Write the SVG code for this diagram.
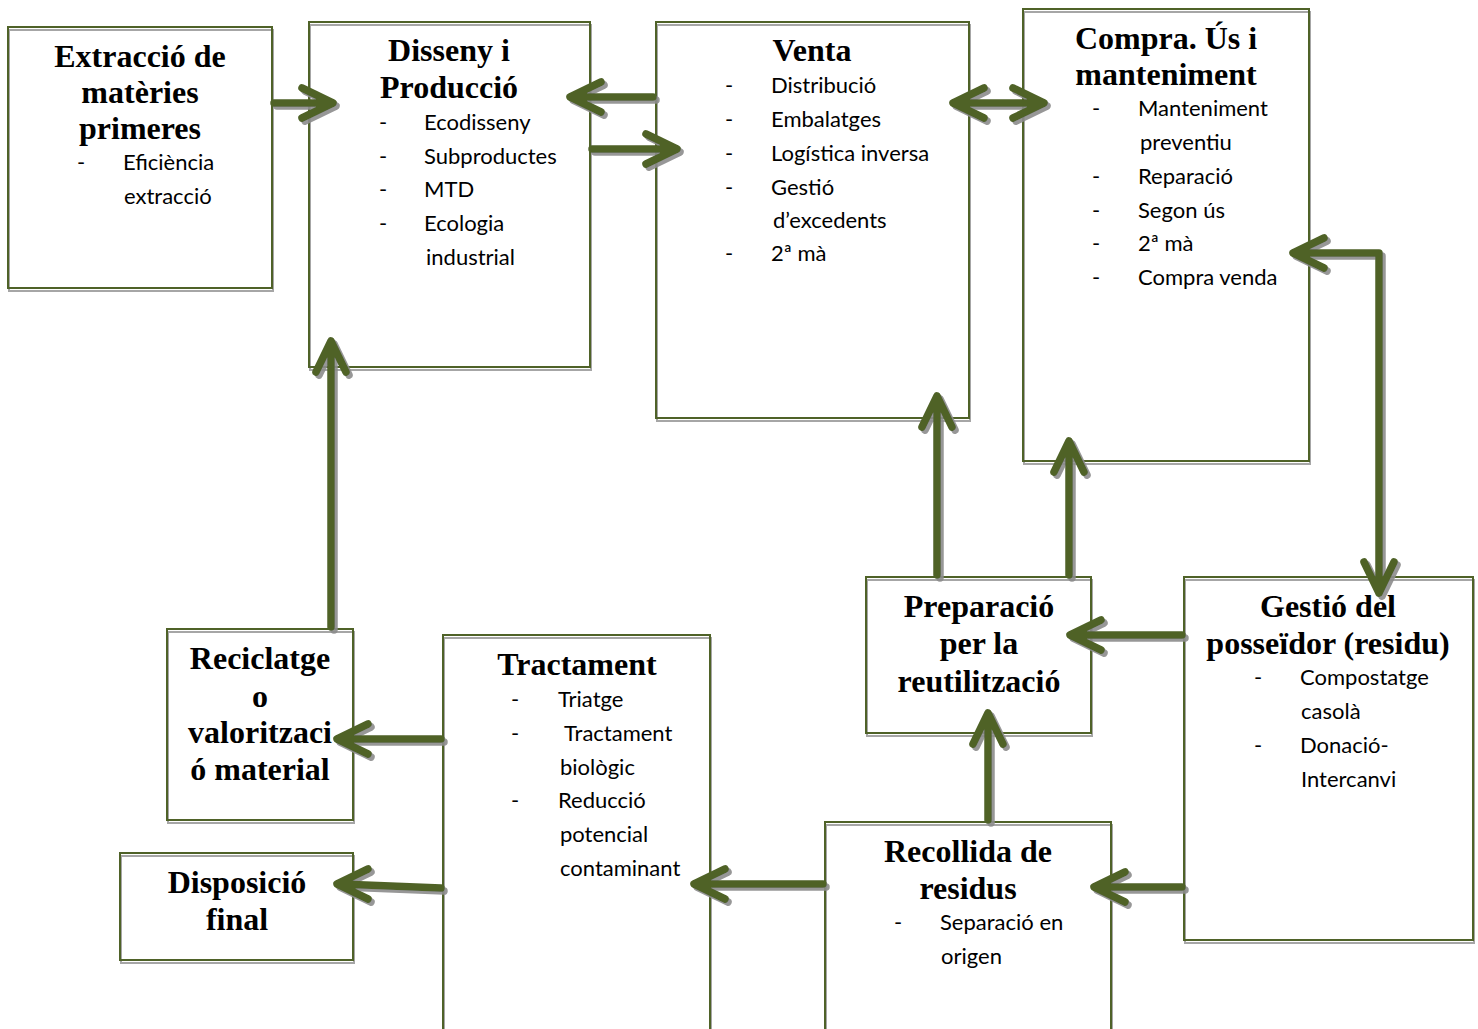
<svg xmlns="http://www.w3.org/2000/svg" width="1478" height="1029" viewBox="0 0 1478 1029">
<style>
.bg{fill:#fff;stroke:none}
.sh{fill:none;stroke:#a6a6a6;stroke-width:2}
.bx{fill:none;stroke:#4f6228;stroke-width:2}
.t{font-family:"Liberation Serif","Times New Roman",serif;font-weight:bold;font-size:32px;fill:#000;text-anchor:middle}
.b{font-family:Lato,"Carlito",sans-serif;font-size:22px;fill:#000}
.ar{fill:none;stroke:#4f6228;stroke-width:7.5;stroke-linecap:round;stroke-linejoin:round}
</style>
<defs>
<filter id="ds" x="-20%" y="-20%" width="140%" height="140%">
<feDropShadow dx="3" dy="3" stdDeviation="0.6" flood-color="#8c8c8c" flood-opacity="0.9"/>
</filter>
</defs>
<rect width="1478" height="1029" fill="#fff"/>

<g id="extraccio">
<rect class="bg" x="8" y="27" width="264" height="261"/>
<rect class="sh" x="9" y="30" width="264" height="261"/>
<rect class="bx" x="8" y="27" width="264" height="261"/>
<text class="t" x="140" y="67">Extracció de</text>
<text class="t" x="140" y="103">matèries</text>
<text class="t" x="140" y="139">primeres</text>
<text class="b" x="77" y="170">-</text><text class="b" x="123" y="170">Eficiència</text>
<text class="b" x="124" y="204">extracció</text>
</g>

<g id="disseny">
<rect class="bg" x="309" y="22" width="281" height="345"/>
<rect class="sh" x="310" y="25" width="281" height="345"/>
<rect class="bx" x="309" y="22" width="281" height="345"/>
<text class="t" x="449" y="61">Disseny i</text>
<text class="t" x="449" y="98">Producció</text>
<text class="b" x="379" y="130">-</text><text class="b" x="424" y="130">Ecodisseny</text>
<text class="b" x="379" y="164">-</text><text class="b" x="424" y="164">Subproductes</text>
<text class="b" x="379" y="197">-</text><text class="b" x="424" y="197">MTD</text>
<text class="b" x="379" y="231">-</text><text class="b" x="424" y="231">Ecologia</text>
<text class="b" x="426" y="265">industrial</text>
</g>

<g id="venta">
<rect class="bg" x="656" y="22" width="313" height="396"/>
<rect class="sh" x="657" y="25" width="313" height="396"/>
<rect class="bx" x="656" y="22" width="313" height="396"/>
<text class="t" x="812" y="61">Venta</text>
<text class="b" x="725" y="93">-</text><text class="b" x="771" y="93">Distribució</text>
<text class="b" x="725" y="127">-</text><text class="b" x="771" y="127">Embalatges</text>
<text class="b" x="725" y="161">-</text><text class="b" x="771" y="161">Logística inversa</text>
<text class="b" x="725" y="195">-</text><text class="b" x="771" y="195">Gestió</text>
<text class="b" x="773" y="228">d’excedents</text>
<text class="b" x="725" y="261">-</text><text class="b" x="771" y="261">2ª mà</text>
</g>

<g id="compra">
<rect class="bg" x="1023" y="9" width="286" height="452"/>
<rect class="sh" x="1024" y="12" width="286" height="452"/>
<rect class="bx" x="1023" y="9" width="286" height="452"/>
<text class="t" x="1166" y="49">Compra. Ús i</text>
<text class="t" x="1166" y="85">manteniment</text>
<text class="b" x="1092" y="116">-</text><text class="b" x="1138" y="116">Manteniment</text>
<text class="b" x="1140" y="150">preventiu</text>
<text class="b" x="1092" y="184">-</text><text class="b" x="1138" y="184">Reparació</text>
<text class="b" x="1092" y="218">-</text><text class="b" x="1138" y="218">Segon ús</text>
<text class="b" x="1092" y="251">-</text><text class="b" x="1138" y="251">2ª mà</text>
<text class="b" x="1092" y="285">-</text><text class="b" x="1138" y="285">Compra venda</text>
</g>

<g id="gestio">
<rect class="bg" x="1184" y="577" width="289" height="363"/>
<rect class="sh" x="1185" y="580" width="289" height="363"/>
<rect class="bx" x="1184" y="577" width="289" height="363"/>
<text class="t" x="1328" y="617">Gestió del</text>
<text class="t" x="1328" y="654">posseïdor (residu)</text>
<text class="b" x="1254" y="685">-</text><text class="b" x="1300" y="685">Compostatge</text>
<text class="b" x="1301" y="719">casolà</text>
<text class="b" x="1254" y="753">-</text><text class="b" x="1300" y="753">Donació-</text>
<text class="b" x="1301" y="787">Intercanvi</text>
</g>

<g id="preparacio">
<rect class="bg" x="866" y="577" width="225" height="156"/>
<rect class="sh" x="867" y="580" width="225" height="156"/>
<rect class="bx" x="866" y="577" width="225" height="156"/>
<text class="t" x="979" y="617">Preparació</text>
<text class="t" x="979" y="654">per la</text>
<text class="t" x="979" y="692">reutilització</text>
</g>

<g id="recollida">
<rect class="bg" x="825" y="822" width="286" height="230"/>
<rect class="sh" x="826" y="825" width="286" height="230"/>
<rect class="bx" x="825" y="822" width="286" height="230"/>
<text class="t" x="968" y="862">Recollida de</text>
<text class="t" x="968" y="899">residus</text>
<text class="b" x="894" y="930">-</text><text class="b" x="940" y="930">Separació en</text>
<text class="b" x="941" y="964">origen</text>
</g>

<g id="tractament">
<rect class="bg" x="443" y="635" width="267" height="420"/>
<rect class="sh" x="444" y="638" width="267" height="420"/>
<rect class="bx" x="443" y="635" width="267" height="420"/>
<text class="t" x="577" y="675">Tractament</text>
<text class="b" x="511" y="707">-</text><text class="b" x="558" y="707">Triatge</text>
<text class="b" x="511" y="741">-</text><text class="b" x="564" y="741">Tractament</text>
<text class="b" x="560" y="775">biològic</text>
<text class="b" x="511" y="808">-</text><text class="b" x="558" y="808">Reducció</text>
<text class="b" x="560" y="842">potencial</text>
<text class="b" x="560" y="876">contaminant</text>
</g>

<g id="reciclatge">
<rect class="bg" x="167" y="629" width="186" height="191"/>
<rect class="sh" x="168" y="632" width="186" height="191"/>
<rect class="bx" x="167" y="629" width="186" height="191"/>
<text class="t" x="260" y="669">Reciclatge</text>
<text class="t" x="260" y="707">o</text>
<text class="t" x="260" y="743">valoritzaci</text>
<text class="t" x="260" y="780">ó material</text>
</g>

<g id="disposicio">
<rect class="bg" x="120" y="853" width="233" height="107"/>
<rect class="sh" x="121" y="856" width="233" height="107"/>
<rect class="bx" x="120" y="853" width="233" height="107"/>
<text class="t" x="237" y="893">Disposició</text>
<text class="t" x="237" y="930">final</text>
</g>

<g id="connectors" filter="url(#ds)">
<path class="ar" d="M274,103 H330 M302,88 L333,103 L302,118"/>
<path class="ar" d="M653,97 H573 M601,82 L570,97 L601,112"/>
<path class="ar" d="M592,149 H674 M646,134 L677,149 L646,164"/>
<path class="ar" d="M956,103 H1041 M984,88 L953,103 L984,118 M1013,88 L1044,103 L1013,118"/>
<path class="ar" d="M1379,593 V253 H1296 M1324,238 L1293,253 L1324,268 M1364,562 L1379,593 L1394,562"/>
<path class="ar" d="M937,575 V399 M922,427 L937,396 L952,427"/>
<path class="ar" d="M1069,575 V444 M1054,472 L1069,441 L1084,472"/>
<path class="ar" d="M1182,635 H1073 M1101,620 L1070,635 L1101,650"/>
<path class="ar" d="M988,820 V716 M973,744 L988,713 L1003,744"/>
<path class="ar" d="M1182,887 H1097 M1125,872 L1094,887 L1125,902"/>
<path class="ar" d="M823,884 H697 M725,869 L694,884 L725,899"/>
<path class="ar" d="M441,739 H340 M368,724 L337,739 L368,754"/>
<path class="ar" d="M441,888 L340,884 M368,869 L337,884 L368,899"/>
<path class="ar" d="M331,627 V344 M316,372 L331,341 L346,372"/>
</g>
</svg>
